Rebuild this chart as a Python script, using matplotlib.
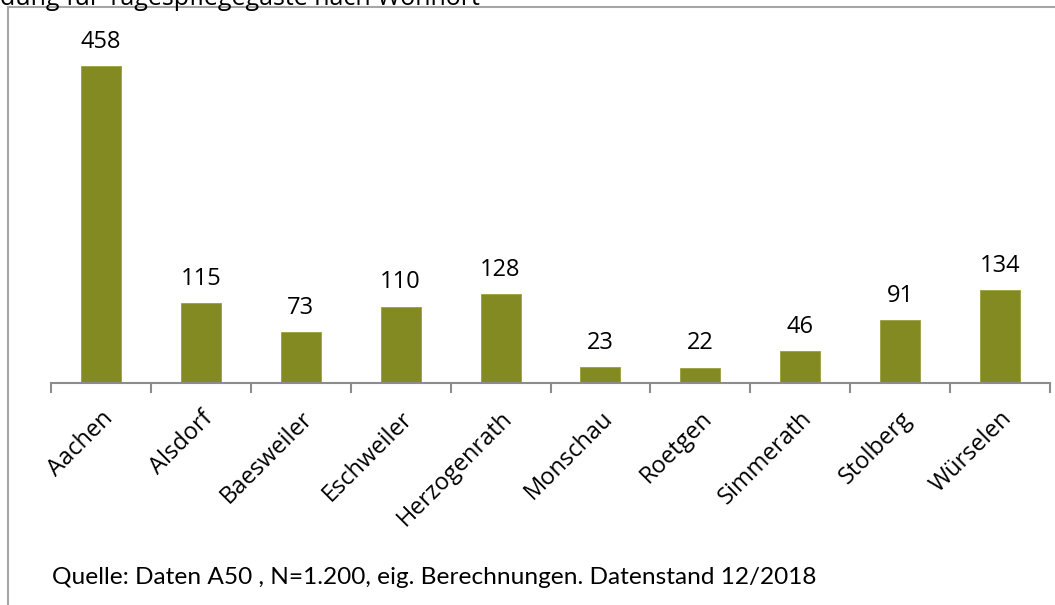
#!/usr/bin/env python3
import numpy as np
import matplotlib
matplotlib.use('Agg')
import matplotlib.pyplot as plt
from matplotlib.lines import Line2D

orte = ['Aachen', 'Alsdorf', 'Baesweiler', 'Eschweiler', 'Herzogenrath',
        'Monschau', 'Roetgen', 'Simmerath', 'Stolberg', 'Würselen']
gaeste = [458, 115, 73, 110, 128, 23, 22, 46, 91, 134]

plt.rcParams['font.family'] = ['Open Sans', 'DejaVu Sans']

W, H = 1055, 605
fig = plt.figure(figsize=(W / 100, H / 100), dpi=100)

# frame of the chart area (partly cut off in the original)
fig.add_artist(Line2D([8 / W, 8 / W], [0, 1 - 7 / H], color='#a6a6a6', lw=1.5))
fig.add_artist(Line2D([8 / W, 1], [1 - 7 / H, 1 - 7 / H], color='#a6a6a6', lw=1.5))

# cut-off title
fig.text(0, 1 + 2 / H, 'dung für Tagespflegegäste nach Wohnort',
         fontsize=18, ha='left', va='center', color='black')

x0, x1 = 51, 1050
ybase, ytop = 383, 37
ax = fig.add_axes([x0 / W, 1 - ybase / H, (x1 - x0) / W, (ybase - ytop) / H])

r = np.arange(len(orte))
ax.bar(r, gaeste, width=0.4, color='#848A22', edgecolor='#9aa040',
       linewidth=0.6)
ax.set_xlim(-0.5, len(orte) - 0.5)
ax.set_ylim(0, 500)

for xi, v in zip(r, gaeste):
    ax.annotate(str(v), (xi, v), xytext=(0, 9), textcoords='offset points',
                ha='center', va='bottom', fontsize=17)

for s in ['top', 'right', 'left']:
    ax.spines[s].set_visible(False)
ax.spines['bottom'].set_color('#8c8c8c')
ax.spines['bottom'].set_linewidth(1.5)
ax.set_yticks([])

ax.set_xticks(np.arange(-0.5, len(orte), 1.0), minor=False)
ax.set_xticklabels([])
ax.tick_params(axis='x', which='major', length=7, width=1.5, color='#8c8c8c')
ax.set_xticks(r, minor=True)
ax.set_xticklabels(orte, minor=True, rotation=45, ha='right',
                   rotation_mode='anchor', fontsize=17)
ax.tick_params(axis='x', which='minor', length=0, pad=17)

fig.text(52 / W, 1 - 578 / H, 'Quelle: Daten A50 , N=1.200, eig. Berechnungen. Datenstand 12/2018',
         fontsize=17.6, ha='left', va='center', family=['Lato', 'DejaVu Sans'])

fig.savefig('out.png', dpi=100)
